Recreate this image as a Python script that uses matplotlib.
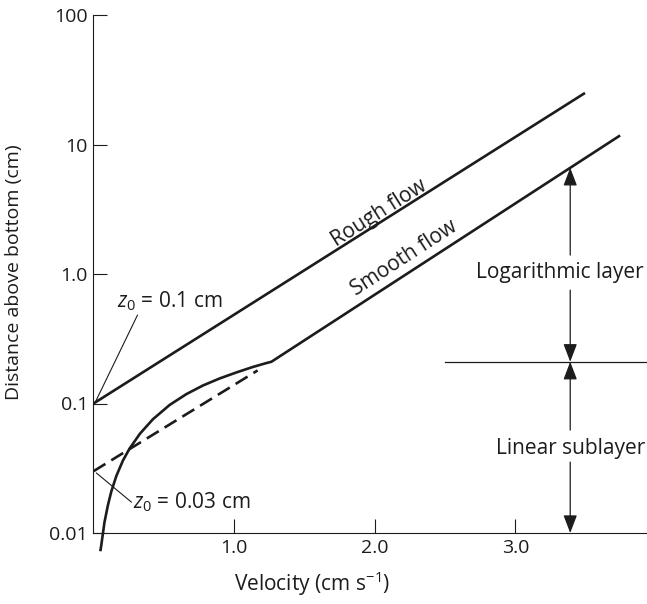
import numpy as np
import matplotlib
matplotlib.use("Agg")
import matplotlib.pyplot as plt

plt.rcParams["font.family"] = ["Open Sans", "DejaVu Sans"]
plt.rcParams["mathtext.fontset"] = "custom"
plt.rcParams["mathtext.rm"] = "Open Sans"
plt.rcParams["mathtext.it"] = "Open Sans:italic"

INK = "#1c1c1c"

# Velocity profiles (velocity in cm/s, height in cm)
rough_u = [0.0, 3.495]
rough_z = [0.1, 25.0]

# smooth flow: viscous (linear) sublayer curve, then logarithmic segment
smooth_u = [0.050, 0.055, 0.078, 0.102, 0.126, 0.162, 0.209, 0.256, 0.330,
            0.422, 0.541, 0.660, 0.778, 0.897, 1.016, 1.134, 1.229, 1.265,
            3.737]
smooth_z = [0.0074, 0.0080, 0.0121, 0.0163, 0.0208, 0.0275, 0.0362, 0.0448,
            0.0584, 0.0755, 0.0974, 0.1181, 0.1377, 0.1561, 0.1737, 0.1916,
            0.2052, 0.2100, 11.6]

# extrapolation of the smooth-flow log profile down to z0
extrap_u = [0.0, 1.167]
extrap_z = [0.03, 0.18]

x_ticks = [1.0, 2.0, 3.0]
x_tick_labels = ["1.0", "2.0", "3.0"]
y_ticks = [0.01, 0.1, 1.0, 10, 100]
y_tick_labels = ["0.01", "0.1", "1.0", "10", "100"]

FS = 15

fig = plt.figure(figsize=(6.47, 6.04), dpi=100)
ax = fig.add_axes([93.5 / 647, 1 - 533 / 604, (647 - 93.5) / 647, 518 / 604])
ax.set_yscale("log")
ax.set_xlim(0, 3.936)
ax.set_ylim(0.01, 100)

ax.plot(rough_u, rough_z, color=INK, lw=1.9, solid_capstyle="butt")
ax.plot(smooth_u, smooth_z, color=INK, lw=1.9, clip_on=False,
        solid_joinstyle="round")
ax.plot(extrap_u, extrap_z, color=INK, lw=1.9, dashes=(5.3, 2.6))

# axes styling
for side in ("top", "right"):
    ax.spines[side].set_visible(False)
for side in ("left", "bottom"):
    ax.spines[side].set_linewidth(0.8)
    ax.spines[side].set_color(INK)
ax.set_xticks(x_ticks)
ax.set_xticklabels(x_tick_labels)
ax.set_yticks(y_ticks)
ax.set_yticklabels(y_tick_labels)
ax.minorticks_off()
ax.tick_params(axis="both", direction="in", length=10, width=0.8,
               colors=INK, labelsize=14)
ax.tick_params(axis="x", pad=4)
ax.tick_params(axis="y", pad=4)

ax.set_xlabel(r"Velocity (cm s$^{-1}$)", fontsize=FS, color=INK)
ax.xaxis.set_label_coords(0.395, -0.070)
ax.set_ylabel("Distance above bottom (cm)", fontsize=14, color=INK)
ax.yaxis.set_label_coords(-0.128, 0.504)

# labels along the profiles
fig.canvas.draw()
def line_angle(u, z):
    p = ax.transData.transform(np.column_stack([u, z]))
    return np.degrees(np.arctan2(p[1, 1] - p[0, 1], p[1, 0] - p[0, 0]))

ang_rough = line_angle(rough_u, rough_z)
ang_smooth = line_angle(smooth_u[-2:], smooth_z[-2:])
ax.text(2.03, 2.96, "Rough flow", rotation=ang_rough, rotation_mode="anchor",
        ha="center", va="center", fontsize=FS, color=INK)
ax.text(2.21, 1.33, "Smooth flow", rotation=ang_smooth, rotation_mode="anchor",
        ha="center", va="center", fontsize=FS, color=INK)

# roughness length call-outs
ax.text(0.164, 0.556, r"$z_0$ = 0.1 cm", ha="left", va="baseline",
        fontsize=FS, color=INK)
ax.annotate("", xy=(0.012, rough_z[0] * 1.02), xytext=(0.313, 0.482),
            arrowprops=dict(arrowstyle="-", color=INK, lw=0.8,
                            shrinkA=0, shrinkB=0))
ax.text(0.278, 0.0156, r"$z_0$ = 0.03 cm", ha="left", va="baseline",
        fontsize=FS, color=INK)
ax.annotate("", xy=(0.02, extrap_z[0] * 0.97), xytext=(0.27, 0.0173),
            arrowprops=dict(arrowstyle="-", color=INK, lw=0.8,
                            shrinkA=0, shrinkB=0))

# layer boundary and extent arrows
z_boundary = smooth_z[-2]
ax.plot([2.5, 3.936], [z_boundary, z_boundary], color=INK, lw=0.9,
        clip_on=False)

arrow_u = 3.39
z_top = 10 ** np.interp(arrow_u, smooth_u[-2:], np.log10(smooth_z[-2:]))
head = dict(arrowstyle="-|>,head_length=1.1,head_width=0.42", color=INK,
            lw=0.9, shrinkA=0, shrinkB=0, mutation_scale=10)

ax.annotate("", xy=(arrow_u, z_top), xytext=(arrow_u, 1.40), arrowprops=head)
ax.annotate("", xy=(arrow_u, z_boundary), xytext=(arrow_u, 0.75),
            arrowprops=head)
ax.text(3.317, 1.02, "Logarithmic layer", ha="center", va="center",
        fontsize=FS, color=INK)

ax.annotate("", xy=(arrow_u, z_boundary), xytext=(arrow_u, 0.0623),
            arrowprops=head)
ax.annotate("", xy=(arrow_u, 0.01), xytext=(arrow_u, 0.0353),
            arrowprops=head)
ax.text(3.395, 0.0453, "Linear sublayer", ha="center", va="center",
        fontsize=FS, color=INK)

fig.savefig("out.png", dpi=100)
